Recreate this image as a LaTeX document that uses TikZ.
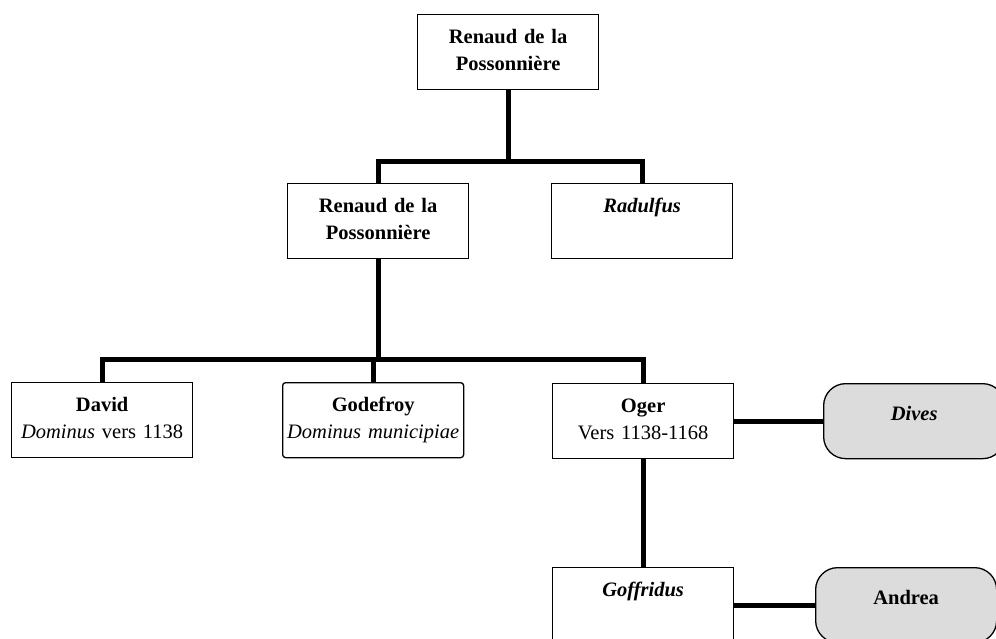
\documentclass[tikz,border=0pt]{standalone}
\usepackage{fontspec}
\setmainfont{Liberation Serif}
\definecolor{familySpouseGray}{HTML}{DCDCDC}

\begin{document}
\begin{tikzpicture}[x=1pt, y=-1pt,
    person/.style={draw, line width=1.3pt, inner xsep=1pt, inner ysep=0pt, text width=179pt, minimum width=181pt, align=center, text height=29pt, text depth=46pt, anchor=north west, font=\fontsize{20.5}{27}\selectfont},
    spouse/.style={person, rounded corners=22pt, fill=familySpouseGray, text height=37pt, text depth=38pt},
    link/.style={line width=5pt}]
            \useasboundingbox (0,0) rectangle (996,638);
            \node[person] (top) at (417,14) {\textbf{Renaud de la\\Possonnière}};
            \node[person] (renaud) at (287,183) {\textbf{Renaud de la\\Possonnière}};
            \node[person] (radulfus) at (551,183) {\textbf{\textit{Radulfus}}};
            \node[person] (david) at (11,382) {\textbf{David}\\\textit{Dominus} vers 1138};
            \node[person, rounded corners=3pt] (godefroy) at (282,382) {\textbf{Godefroy}\\\textit{Dominus municipiae}};
            \node[person] (oger) at (552,383) {\textbf{Oger}\\Vers 1138-1168};
            \node[spouse] (dives) at (823,383) {\textbf{\textit{Dives}}};
            \node[person] (goffridus) at (552,567) {\textbf{\textit{Goffridus}}};
            \node[spouse] (andrea) at (815,567) {\textbf{Andrea}};
            \draw[link] (top.south) -- ++(0,71) -| (renaud.north);
            \draw[link] (top.south) -- ++(0,71) -| (radulfus.north);
            \draw[link] (renaud.south) -- ++(0,100) -| (david.north);
            \draw[link] (renaud.south) -- ++(0,100) -| (godefroy.north);
            \draw[link] (renaud.south) -- ++(0,100) -| (oger.north);
            \draw[link] (oger.south) -- (goffridus.north);
            \draw[link] (oger.east) -- (dives.west);
            \draw[link] (goffridus.east) -- (andrea.west);
        \end{tikzpicture}
\end{document}
